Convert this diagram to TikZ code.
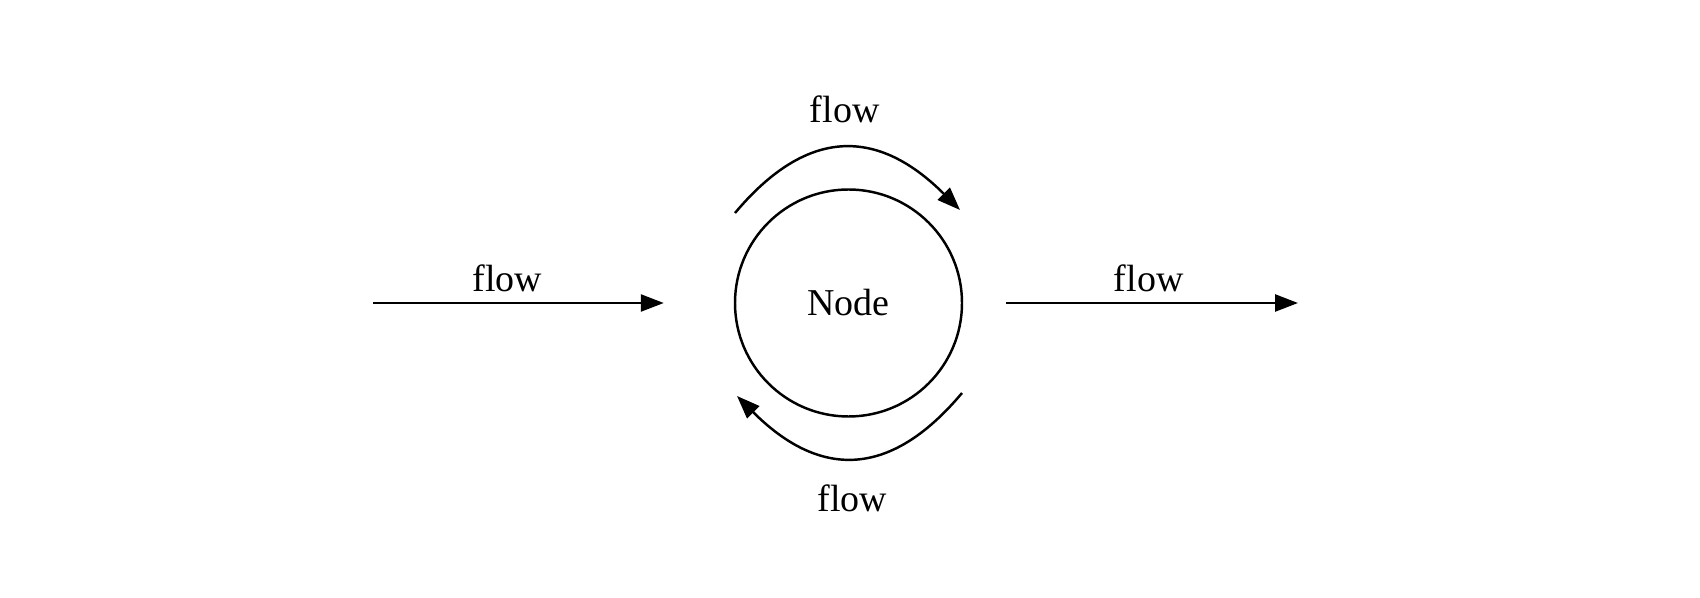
\documentclass[tikz,border=0pt]{standalone}
\usepackage{fontspec}
\setmainfont{Liberation Serif}
\usetikzlibrary{arrows.meta, positioning}

\begin{document}
\begin{tikzpicture}[->,>={Triangle[length=2.3mm,width=1.7mm]},line width=0.7pt,
                    font=\fontsize{10.8}{13}\selectfont]
  \tikzstyle{vertex} = [draw, circle, minimum size=22.7mm, inner sep=0pt]
  \tikzstyle{flowlabel} = [inner sep=0pt]
  \useasboundingbox (0,0) rectangle (17,-5.98);
  \node [vertex] (node) at (8.485,-3.03) {Node};
  \coordinate (src) at (3.73,-3.03);
  \coordinate (snk) at (12.98,-3.03);
  \coordinate (topA) at (7.35,-2.13);
  \coordinate (topB) at (9.60,-2.10);
  \coordinate (botA) at (9.62,-3.93);
  \coordinate (botB) at (7.37,-3.96);
  \draw [shorten >=7mm] (src) -- node [flowlabel, above=1mm, pos=0.373] {flow} (node);
  \draw [shorten <=4.3mm] (node) -- node [flowlabel, above=1mm, pos=0.554] {flow} (snk);
  \draw (topA) to [out=50, in=135, looseness=1.3]
    node [flowlabel, above=2.4mm] {flow} (topB);
  \draw (botA) to [out=-130, in=-45, looseness=1.3]
    node [flowlabel, below=2.6mm] {flow} (botB);
\end{tikzpicture}
\end{document}
